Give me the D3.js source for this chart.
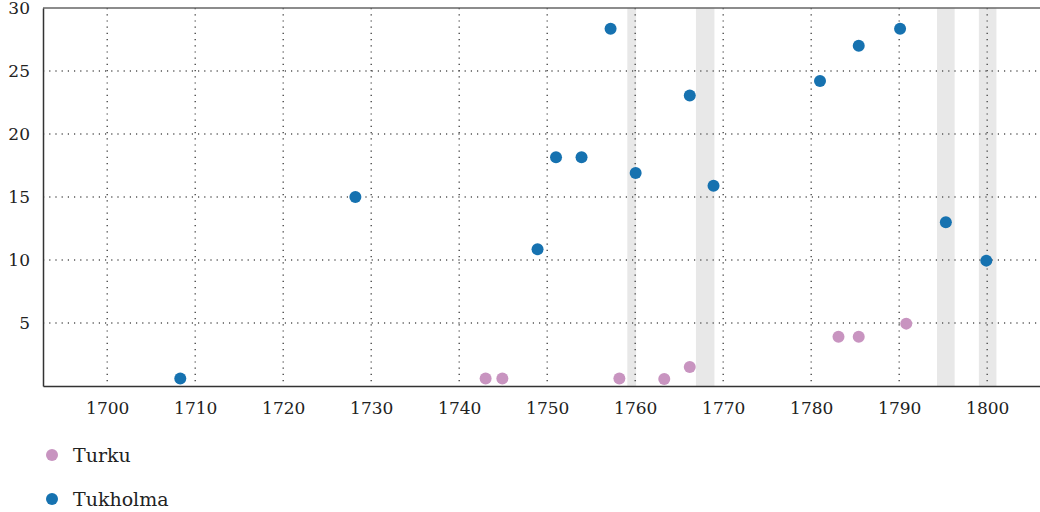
<!DOCTYPE html>
<html>
<head>
<meta charset="utf-8">
<style>
  body { margin: 0; background: #fff; }
  svg text { font-family: "DejaVu Serif", serif; fill: #222; }
</style>
</head>
<body>
<svg width="1040" height="512"></svg>
<script src="https://d3js.org/d3.v7.min.js"></script>
<script>
var svg = d3.select("svg"),
    margin = {top: 8, right: 0, bottom: 126, left: 43},
    width = +svg.attr("width") - margin.left - margin.right,
    height = +svg.attr("height") - margin.top - margin.bottom,
    g = svg.append("g").attr("transform", "translate(" + margin.left + "," + margin.top + ")");

var serif = "'DejaVu Serif', serif";

// data
var turkuYears = [1743.0, 1744.9, 1758.2, 1763.3, 1766.2, 1783.1, 1785.4, 1790.8];
var turkuValues = [0.6, 0.6, 0.6, 0.55, 1.5, 3.9, 3.9, 4.95];
var tukholmaYears = [1708.3, 1728.2, 1748.9, 1751.0, 1753.9, 1757.2, 1760.05, 1766.2, 1768.9, 1781.0, 1785.4, 1790.1, 1795.3, 1799.9];
var tukholmaValues = [0.6, 15.0, 10.85, 18.15, 18.15, 28.35, 16.9, 23.05, 15.9, 24.2, 27.0, 28.35, 13.0, 9.95];
var bandStarts = [1759.1, 1766.9, 1794.3, 1799.05];
var bandEnds = [1760.1, 1769.0, 1796.3, 1801.05];
var xTicks = [1700, 1710, 1720, 1730, 1740, 1750, 1760, 1770, 1780, 1790, 1800];
var yTicks = [5, 10, 15, 20, 25, 30];
var seriesNames = ["Turku", "Tukholma"];
var seriesColors = ["#c894c0", "#1672b0"];

var x = d3.scaleLinear().domain([1692.7, 1806]).range([0, width]);
var y = d3.scaleLinear().domain([0, 30]).range([height, 0]);

// shaded bands
g.selectAll(".band")
  .data(bandStarts.map(function(s, i) { return [s, bandEnds[i]]; }))
  .enter().append("rect")
  .attr("x", function(d) { return x(d[0]); })
  .attr("width", function(d) { return x(d[1]) - x(d[0]); })
  .attr("y", 0)
  .attr("height", height)
  .attr("fill", "#e8e8e8");

// grid
g.selectAll(".vgrid")
  .data(xTicks)
  .enter().append("line")
  .attr("x1", function(d) { return x(d); })
  .attr("x2", function(d) { return x(d); })
  .attr("y1", 0).attr("y2", height)
  .attr("stroke", "#555").attr("stroke-width", 1.5)
  .attr("stroke-dasharray", "1.2,5");

g.selectAll(".hgrid")
  .data(yTicks.filter(function(d) { return d < 30; }))
  .enter().append("line")
  .attr("x1", 0).attr("x2", width)
  .attr("y1", function(d) { return y(d); })
  .attr("y2", function(d) { return y(d); })
  .attr("stroke", "#555").attr("stroke-width", 1.5)
  .attr("stroke-dasharray", "1.2,5");

// top border
g.append("line")
  .attr("x1", 0).attr("x2", width)
  .attr("y1", 0).attr("y2", 0)
  .attr("stroke", "#666").attr("stroke-width", 1.5);

// axes
var xAxis = g.append("g")
  .attr("transform", "translate(0," + height + ")")
  .call(d3.axisBottom(x).tickValues(xTicks).tickFormat(d3.format("d")).tickSize(0).tickPadding(16));
xAxis.attr("font-family", serif).attr("font-size", 17);
xAxis.select(".domain").attr("stroke", "#333").attr("stroke-width", 1.5);
xAxis.selectAll("text").attr("fill", "#222");

var yAxis = g.append("g")
  .call(d3.axisLeft(y).tickValues(yTicks).tickSize(0).tickPadding(13));
yAxis.attr("font-family", serif).attr("font-size", 17);
yAxis.select(".domain").attr("stroke", "#333").attr("stroke-width", 1.5);
yAxis.selectAll("text").attr("fill", "#222");

// points
function drawSeries(years, values, color) {
  g.append("g").selectAll("circle")
    .data(years.map(function(yr, i) { return [yr, values[i]]; }))
    .enter().append("circle")
    .attr("cx", function(d) { return x(d[0]); })
    .attr("cy", function(d) { return y(d[1]); })
    .attr("r", 6)
    .attr("fill", color);
}
drawSeries(turkuYears, turkuValues, seriesColors[0]);
drawSeries(tukholmaYears, tukholmaValues, seriesColors[1]);

// legend
var legend = svg.append("g").attr("transform", "translate(52,455)");
var item = legend.selectAll("g")
  .data(seriesNames)
  .enter().append("g")
  .attr("transform", function(d, i) { return "translate(0," + (i * 44) + ")"; });
item.append("circle").attr("r", 6).attr("fill", function(d, i) { return seriesColors[i]; });
item.append("text")
  .attr("x", 21).attr("dy", "0.35em")
  .attr("font-family", serif)
  .style("font-size", "19px")
  .text(function(d) { return d; });
</script>
</body>
</html>
